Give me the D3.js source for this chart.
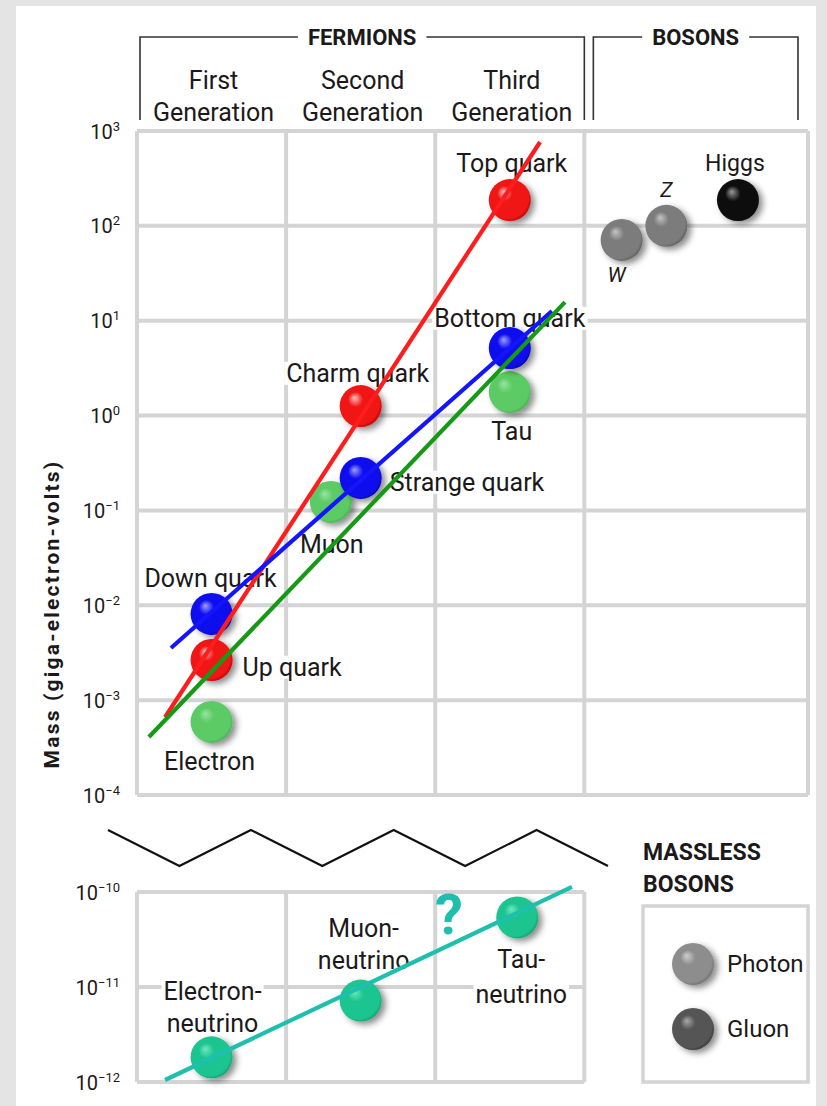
<!DOCTYPE html>
<html>
<head>
<meta charset="utf-8">
<script src="https://cdn.jsdelivr.net/npm/d3@7/dist/d3.min.js"></script>
<style>
  html, body { margin: 0; padding: 0; background: #e4e4e4; }
  svg { display: block; }
  text { font-family: Roboto, "DejaVu Sans", sans-serif; fill: #1c191a; }
</style>
</head>
<body>
<svg id="chart" width="827" height="1106"></svg>
<script>
// ---- Fermions (mass in GeV, generation column) ----
const fermionNames      = ["Electron", "Up quark", "Down quark", "Muon", "Charm quark", "Strange quark", "Tau", "Top quark", "Bottom quark"];
const fermionFamily     = ["lepton", "up", "down", "lepton", "up", "down", "lepton", "up", "down"];
const fermionGeneration = [1, 1, 1, 1.8, 2, 2, 3, 3, 3];
const fermionMassGeV    = [5.9e-4, 2.65e-3, 8.1e-3, 0.123, 1.26, 0.22, 1.77, 187, 5.15];

// ---- Massive bosons ----
const bosonNames   = ["W", "Z", "Higgs"];
const bosonColumn  = [3.75, 4.05, 4.53];
const bosonMassGeV = [71, 100, 187];

// ---- Neutrinos ----
const neutrinoNames      = [["Electron-", "neutrino"], ["Muon-", "neutrino"], ["Tau-", "neutrino"]];
const neutrinoGeneration = [1, 2, 3.05];
const neutrinoMassGeV    = [1.82e-12, 7.2e-12, 5.4e-11];

// ---- Trend lines per family (end points) ----
const trendFamilies  = ["up", "down", "lepton"];
const trendStartGen  = [0.688, 0.728, 0.580];
const trendStartMass = [6.6e-4, 3.55e-3, 4.08e-4];
const trendEndGen    = [3.203, 3.283, 3.370];
const trendEndMass   = [766, 12.6, 15.7];
const neutrinoTrendGen  = [0.688, 3.417];
const neutrinoTrendMass = [1.05e-12, 1.13e-10];

// ---- Massless bosons ----
const masslessNames = ["Photon", "Gluon"];

// ---- Axis ticks ----
const upperTickExponents = [3, 2, 1, 0, -1, -2, -3, -4];
const lowerTickExponents = [-10, -11, -12];
const generationHeaders  = [["First", "Generation"], ["Second", "Generation"], ["Third", "Generation"]];

// ---------------------------------------------------------------
const svg = d3.select("#chart");

// white sheet
svg.append("rect").attr("x", 16).attr("y", 6).attr("width", 800).attr("height", 1100).attr("fill", "#ffffff");

const x = d3.scaleLinear().domain([0.5, 5]).range([137, 808]);
const yUp = d3.scaleLog().domain([1e-4, 1e3]).range([795, 131]);
const yLow = d3.scaleLog().domain([1e-12, 1e-10]).range([1082, 892]);

const gridColor = "#d4d4d4";
const defs = svg.append("defs");

// soft drop shadow for the spheres
const sh = defs.append("filter").attr("id", "shadow").attr("x", "-50%").attr("y", "-50%").attr("width", "220%").attr("height", "220%");
sh.append("feDropShadow").attr("dx", 4).attr("dy", 3).attr("stdDeviation", 3.2)
  .attr("flood-color", "#000").attr("flood-opacity", 0.45);

// sphere shading
const sphereColors = {
  up:       ["#ffc0c0", "#f01515", "#b00000"],
  down:     ["#a0a0ff", "#0d0ded", "#00009a"],
  lepton:   ["#9ae3a0", "#5ccb66", "#41a84a"],
  neutrino: ["#6ee8bf", "#1fc590", "#0f9468"],
  weak:     ["#c4c4c4", "#7c7c7c", "#555555"],
  higgs:    ["#9a9a9a", "#111111", "#000000"],
  Photon:   ["#cfcfcf", "#8d8d8d", "#666666"],
  Gluon:    ["#a8a8a8", "#555555", "#333333"]
};
Object.entries(sphereColors).forEach(([k, c]) => {
  const g = defs.append("radialGradient").attr("id", "ball-" + k)
    .attr("cx", "45%").attr("cy", "45%").attr("r", "60%").attr("fx", "35%").attr("fy", "30%");
  g.append("stop").attr("offset", "0%").attr("stop-color", c[0]);
  g.append("stop").attr("offset", "30%").attr("stop-color", c[1]);
  g.append("stop").attr("offset", "85%").attr("stop-color", c[1]);
  g.append("stop").attr("offset", "100%").attr("stop-color", c[2]);
});
const lineColors = { up: "#ff1c1c", down: "#1414ff", lepton: "#169a16", neutrino: "#1fbfae" };

// ---- grid ----
const grid = svg.append("g").attr("stroke", gridColor).attr("stroke-width", 4).attr("fill", "none");
upperTickExponents.forEach(e => {
  grid.append("line").attr("x1", x(0.5)).attr("x2", x(5)).attr("y1", yUp(Math.pow(10, e))).attr("y2", yUp(Math.pow(10, e)));
});
[0.5, 1.5, 2.5, 3.5, 5].forEach(c => {
  grid.append("line").attr("x1", x(c)).attr("x2", x(c)).attr("y1", yUp(1e3)).attr("y2", yUp(1e-4));
});
lowerTickExponents.forEach(e => {
  grid.append("line").attr("x1", x(0.5)).attr("x2", x(3.5)).attr("y1", yLow(Math.pow(10, e))).attr("y2", yLow(Math.pow(10, e)));
});
[0.5, 1.5, 2.5, 3.5].forEach(c => {
  grid.append("line").attr("x1", x(c)).attr("x2", x(c)).attr("y1", yLow(1e-10)).attr("y2", yLow(1e-12));
});

// ---- y axes with power-of-ten labels ----
function powerLabels(sel) {
  sel.select(".domain").remove();
  sel.selectAll(".tick line").remove();
  sel.selectAll(".tick text").each(function (d) {
    const t = d3.select(this).text(null)
      .attr("font-size", 20).attr("fill", "#1c191a").attr("dy", "0.35em")
      .attr("font-family", "Roboto, sans-serif");
    const e = Math.round(Math.log10(d));
    t.append("tspan").text("10");
    t.append("tspan").attr("font-size", 13).attr("dy", -8).text(e < 0 ? "\u2212" + Math.abs(e) : String(e));
  });
}
svg.append("g").attr("transform", `translate(${x(0.5)},0)`)
  .call(d3.axisLeft(yUp).tickValues(upperTickExponents.map(e => Math.pow(10, e))).tickSize(0).tickPadding(17))
  .call(powerLabels);
svg.append("g").attr("transform", `translate(${x(0.5)},0)`)
  .call(d3.axisLeft(yLow).tickValues(lowerTickExponents.map(e => Math.pow(10, e))).tickSize(0).tickPadding(17))
  .call(powerLabels);

svg.append("text").attr("transform", "translate(59,614) rotate(-90)")
  .attr("text-anchor", "middle").attr("font-size", 21).attr("font-weight", "bold").attr("letter-spacing", 2.2)
  .text("Mass (giga-electron-volts)");

// ---- header brackets ----
const hdr = svg.append("g");
function bracket(x0, x1, label) {
  const cx = (x0 + x1) / 2;
  const t = hdr.append("text").attr("x", cx).attr("y", 37).attr("dy", "0.35em").attr("text-anchor", "middle")
    .attr("font-size", 22).attr("font-weight", "bold").text(label);
  const w = t.node().getBBox().width;
  hdr.insert("path", "text")
    .attr("d", `M${x0},120V37H${cx - w / 2 - 10}M${cx + w / 2 + 10},37H${x1}V120`)
    .attr("fill", "none").attr("stroke", "#333").attr("stroke-width", 1.6);
}
bracket(x(0.5) + 3, x(3.5), "FERMIONS");
bracket(x(3.5) + 9, x(5) - 10, "BOSONS");

generationHeaders.forEach((lines, i) => {
  lines.forEach((s, j) => {
    hdr.append("text").attr("x", x(i + 1) + 2).attr("y", 80 + j * 32).attr("dy", "0.35em")
      .attr("text-anchor", "middle").attr("font-size", 25).text(s);
  });
});

// ---- axis break ----
const breakPts = d3.range(8).map(i => [108 + i * (500 / 7), i % 2 === 0 ? 830 : 866]);
svg.append("path").attr("d", d3.line()(breakPts)).attr("fill", "none").attr("stroke", "#111").attr("stroke-width", 2.2);

// ---- labels ----
const labelLayer = svg.append("g");
const fermionLabelPos = {
  "Electron":      { dx: -2, dy: 39, anchor: "middle" },
  "Up quark":      { dx: 31, dy: 7, anchor: "start" },
  "Down quark":    { dx: -1, dy: -36, anchor: "middle" },
  "Muon":          { dx: 1, dy: 42, anchor: "middle" },
  "Charm quark":   { dx: -3, dy: -33, anchor: "middle" },
  "Strange quark": { dx: 29, dy: 4, anchor: "start" },
  "Tau":           { dx: 2, dy: 39, anchor: "middle" },
  "Top quark":     { dx: 2, dy: -37, anchor: "middle" },
  "Bottom quark":  { dx: 0, dy: -30, anchor: "middle" }
};
const bosonLabelPos = {
  "W":     { dx: -5, dy: 35, italic: true },
  "Z":     { dx: 0, dy: -36, italic: true },
  "Higgs": { dx: -3, dy: -37, italic: false }
};

function addLabel(px, py, str, anchor, opts = {}) {
  const g = labelLayer.append("g");
  const t = g.append("text").attr("x", px).attr("y", py).attr("dy", "0.35em")
    .attr("text-anchor", anchor).attr("font-size", opts.size || 25)
    .attr("font-style", opts.italic ? "italic" : null).text(str);
  if (opts.bg) {
    const b = t.node().getBBox();
    g.insert("rect", "text").attr("x", b.x - 2).attr("y", b.y + 3).attr("width", b.width + 4).attr("height", b.height - 6).attr("fill", "#fff");
  }
}

fermionNames.forEach((n, i) => {
  const p = fermionLabelPos[n];
  addLabel(x(fermionGeneration[i]) + p.dx, yUp(fermionMassGeV[i]) + p.dy, n, p.anchor, { bg: true });
});
bosonNames.forEach((n, i) => {
  const p = bosonLabelPos[n];
  addLabel(x(bosonColumn[i]) + p.dx, yUp(bosonMassGeV[i]) + p.dy, n, "middle", { italic: p.italic, size: n === "Higgs" ? 23 : 21 });
});
const neutrinoLabelPos = [
  { dx: 1, dy: [-66, -34] },
  { dx: 3, dy: [-72, -40] },
  { dx: 4, dy: [42, 77] }
];
neutrinoNames.forEach((lines, i) => {
  const p = neutrinoLabelPos[i];
  lines.forEach((s, j) => addLabel(x(neutrinoGeneration[i]) + p.dx, yLow(neutrinoMassGeV[i]) + p.dy[j], s, "middle", { bg: true }));
});

// ---- spheres ----
const R = 21;
const balls = svg.append("g");
function sphere(cx, cy, key) {
  balls.append("circle").attr("cx", cx).attr("cy", cy).attr("r", R)
    .attr("fill", `url(#ball-${key})`).attr("filter", "url(#shadow)");
}
fermionNames.forEach((n, i) => sphere(x(fermionGeneration[i]), yUp(fermionMassGeV[i]), fermionFamily[i]));
bosonNames.forEach((n, i) => sphere(x(bosonColumn[i]), yUp(bosonMassGeV[i]), n === "Higgs" ? "higgs" : "weak"));
neutrinoNames.forEach((n, i) => sphere(x(neutrinoGeneration[i]), yLow(neutrinoMassGeV[i]), "neutrino"));

// ---- trend lines ----
const lines = svg.append("g").attr("fill", "none").attr("stroke-width", 4.2);
trendFamilies.forEach((f, i) => {
  lines.append("line")
    .attr("x1", x(trendStartGen[i])).attr("y1", yUp(trendStartMass[i]))
    .attr("x2", x(trendEndGen[i])).attr("y2", yUp(trendEndMass[i]))
    .attr("stroke", lineColors[f]);
});
lines.append("line")
  .attr("x1", x(neutrinoTrendGen[0])).attr("y1", yLow(neutrinoTrendMass[0]))
  .attr("x2", x(neutrinoTrendGen[1])).attr("y2", yLow(neutrinoTrendMass[1]))
  .attr("stroke", lineColors.neutrino);

svg.append("text").attr("x", 449).attr("y", 914).attr("dy", "0.35em").attr("text-anchor", "middle")
  .attr("font-size", 56).attr("font-weight", "bold").style("fill", "#1fbfae").text("?");

// ---- massless bosons legend ----
const lg = svg.append("g");
["MASSLESS", "BOSONS"].forEach((s, j) => {
  lg.append("text").attr("x", 643).attr("y", 852 + j * 32).attr("dy", "0.35em")
    .attr("font-size", 23).attr("font-weight", "bold").text(s);
});
lg.append("rect").attr("x", 643).attr("y", 906).attr("width", 165).attr("height", 176)
  .attr("fill", "#fff").attr("stroke", gridColor).attr("stroke-width", 3.5);
masslessNames.forEach((n, j) => {
  const cy = 964 + j * 65;
  lg.append("circle").attr("cx", 693).attr("cy", cy).attr("r", R)
    .attr("fill", `url(#ball-${n})`).attr("filter", "url(#shadow)");
  lg.append("text").attr("x", 727).attr("y", cy).attr("dy", "0.35em").attr("font-size", 24).text(n);
});
</script>
</body>
</html>
